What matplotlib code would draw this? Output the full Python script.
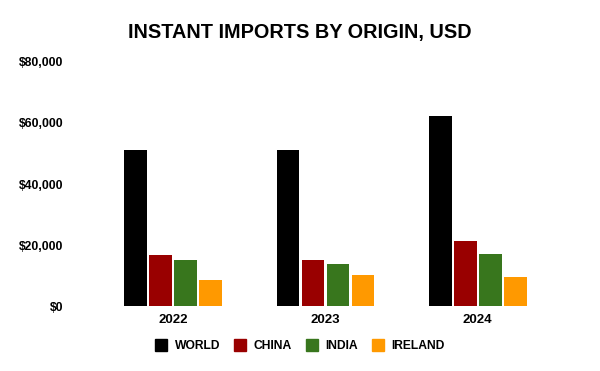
import numpy as np
import matplotlib.pyplot as plt
from matplotlib.ticker import FuncFormatter
from matplotlib.lines import Line2D

plt.rcParams['font.family'] = ['Liberation Sans', 'DejaVu Sans']

years = ['2022', '2023', '2024']
series = ['WORLD', 'CHINA', 'INDIA', 'IRELAND']
world = [51300, 51000, 62300]
china = [16600, 15000, 21200]
india = [15000, 13700, 17000]
ireland = [8400, 10100, 9500]
colors = ['#000000', '#990000', '#38761d', '#ff9900']

fig = plt.figure(figsize=(6, 3.71), dpi=100)
ax = fig.add_axes([0.162, 0.175, 0.761, 0.658])

x = np.arange(len(years))
step = 0.164
width = 0.15
for i, vals in enumerate([world, china, india, ireland]):
    ax.bar(x + (i - 1.5) * step, vals, width, color=colors[i], label=series[i])

ax.set_xlim(-0.5, 2.5)
ax.set_ylim(0, 80000)
ax.set_yticks([0, 20000, 40000, 60000, 80000])
ax.yaxis.set_major_formatter(FuncFormatter(lambda v, p: '${:,.0f}'.format(v)))
ax.set_xticks(x)
ax.set_xticklabels(years, fontsize=9.5, fontweight='bold')
for lab in ax.get_yticklabels():
    lab.set_fontsize(8.8)
    lab.set_fontweight('bold')
ax.tick_params(length=0)
ax.tick_params(axis='y', pad=24.5)
ax.tick_params(axis='x', pad=6)
for s in ax.spines.values():
    s.set_visible(False)

fig.suptitle('INSTANT IMPORTS BY ORIGIN, USD', fontsize=14.3, fontweight='bold', y=0.938)

handles = [Line2D([], [], marker='s', linestyle='', markersize=8, color=c) for c in colors]
fig.legend(handles, series, loc='center', bbox_to_anchor=(0.5, 0.068), ncol=4,
           frameon=False, prop={'size': 8.7, 'weight': 'bold'},
           handletextpad=0.6, columnspacing=1.17, handlelength=1.0)

fig.savefig('out.png', dpi=100)
